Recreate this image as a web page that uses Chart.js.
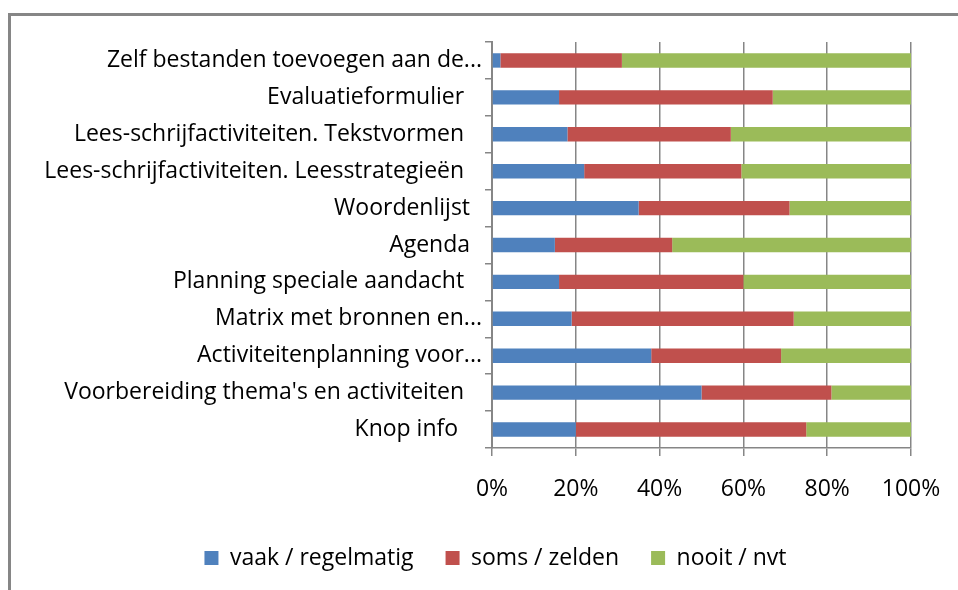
<!DOCTYPE html>
<html lang="nl">
  <head>
    <meta charset="UTF-8" />
    <title>Gebruik onderdelen</title>
    <style>
      html, body { margin: 0; padding: 0; background: #fff; }
      #wrap { position: relative; width: 958px; height: 590px; overflow: hidden; }
      #frame {
        position: absolute; left: 8px; top: 13px; width: 980px; height: 600px;
        border-left: 3px solid #868686; border-top: 3px solid #868686;
      }
      canvas { position: absolute; left: 0; top: 0; }
    </style>
  </head>
  <body>
    <div id="wrap">
      <div id="frame"></div>
      <canvas id="myChart" width="991" height="590"></canvas>
    </div>

    <script src="https://cdn.jsdelivr.net/npm/chart.js"></script>
    <script>
      // categories, top to bottom
      const categories = [
        "Zelf bestanden toevoegen aan de...",
        "Evaluatieformulier   ",
        "Lees-schrijfactiviteiten. Tekstvormen   ",
        "Lees-schrijfactiviteiten. Leesstrategieën   ",
        "Woordenlijst  ",
        "Agenda  ",
        "Planning speciale aandacht   ",
        "Matrix met bronnen en...",
        "Activiteitenplanning voor...",
        "Voorbereiding thema's en activiteiten   ",
        "Knop info    ",
      ];
      const vaak = [2, 16, 18, 22, 35, 15, 16, 19, 38, 50, 20];
      const soms = [29, 51, 39, 37.5, 36, 28, 44, 53, 31, 31, 55];
      const nooit = [69, 33, 43, 40.5, 29, 57, 40, 28, 31, 19, 25];
      const xTicks = [0, 20, 40, 60, 80, 100];

      const font = "'Open Sans', 'DejaVu Sans', sans-serif";
      const gray = "#868686";

      const ctx = document.getElementById("myChart").getContext("2d");
      new Chart(ctx, {
        type: "bar",
        data: {
          labels: categories,
          datasets: [
            { label: "vaak / regelmatig", data: vaak, backgroundColor: "#4F81BD" },
            { label: "soms / zelden", data: soms, backgroundColor: "#C0504D" },
            { label: "nooit / nvt", data: nooit, backgroundColor: "#9BBB59" },
          ],
        },
        options: {
          indexAxis: "y",
          responsive: false,
          animation: false,
          categoryPercentage: 1,
          barPercentage: 0.39,
          layout: { padding: { top: 42, right: 0, bottom: 10.5, left: 0 } },
          plugins: {
            tooltip: { enabled: false },
            legend: {
              position: "bottom",
              labels: {
                boxWidth: 14,
                boxHeight: 14,
                padding: 32,
                color: "#000",
                font: { family: font, size: 23 },
              },
            },
          },
          scales: {
            x: {
              stacked: true,
              min: 0,
              max: 100,
              afterBuildTicks: (scale) => {
                scale.ticks = xTicks.map((v) => ({ value: v }));
              },
              afterFit: (scale) => { scale.height = 66.5; },
              ticks: {
                callback: (v) => v + "%",
                color: "#000",
                padding: 20,
                font: { family: font, size: 23 },
                maxRotation: 0,
              },
              grid: { color: gray, lineWidth: 1.5, tickLength: 8 },
              border: { color: gray, width: 1.5 },
            },
            y: {
              stacked: true,
              afterFit: (scale) => { scale.width = 492; },
              ticks: {
                color: "#000",
                padding: 3,
                font: { family: font, size: 23 },
                autoSkip: false,
              },
              grid: {
                drawOnChartArea: false,
                offset: true,
                color: gray,
                lineWidth: 1.5,
                tickLength: 7,
              },
              border: { color: gray, width: 2 },
            },
            // empty right-hand gutter so the legend centres like the original
            gutter: {
              axis: "y",
              type: "category",
              position: "right",
              afterFit: (scale) => { scale.width = 80; },
              ticks: { display: false },
              grid: { display: false },
              border: { display: false },
            },
          },
        },
      });
    </script>
  </body>
</html>
